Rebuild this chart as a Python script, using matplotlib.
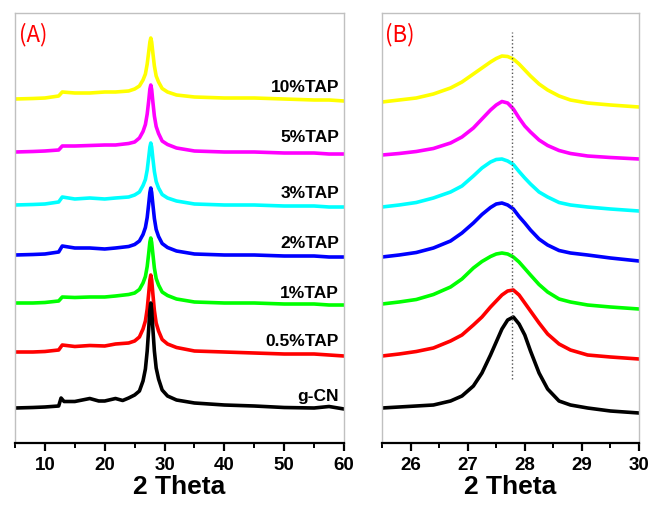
import matplotlib
matplotlib.use('Agg')
import matplotlib.pyplot as plt
from matplotlib.ticker import MultipleLocator

LABELS = ['10%TAP', '5%TAP', '3%TAP', '2%TAP', '1%TAP', '0.5%TAP', 'g-CN']
COLORS = ['#ffff00', '#ff00ff', '#00ffff', '#0000ff', '#00ff00', '#ff0000', '#000000']

# panel A, full scan
A_X = [5, 8, 10, 12.3, 12.9, 15, 17.5, 20, 21.8,
       24, 25, 25.8, 26.4, 26.8, 27.1, 27.35, 27.55, 27.7, 27.85, 28.05, 28.3, 28.6, 29.0, 29.6, 30.5, 32,
       35, 40, 45, 50, 55, 57.5, 60]
A_10 = [344, 344.5, 345, 347, 351, 350, 350, 351, 351,
        352, 354, 357, 363, 369, 379, 391, 401, 405, 401, 390, 377, 367, 361, 354.5, 351, 348,
        346, 345, 345, 344, 343, 343, 342]
A_5 = [291, 291.5, 292, 293, 297, 297, 297.5, 298, 298,
       299.5, 301, 305, 311.5, 318.5, 329, 342, 354, 358, 353.5, 341, 327, 316.5, 309.5, 302, 298.5, 295,
       292, 291, 291, 290, 290, 289, 289]
A_3 = [238, 238.5, 239, 241, 246, 244, 245, 244, 245,
       246, 248, 251, 257.5, 263.5, 273, 285.5, 296, 300, 296, 284.5, 271.5, 261.5, 255, 248.5, 245, 242,
       239, 238, 238, 237, 237, 236, 236]
A_2 = [188, 188.5, 189, 191, 197, 195, 195, 194, 195,
       196.5, 198.5, 202, 208.5, 215.5, 225.5, 239, 250.5, 255, 250.5, 238.5, 224.5, 213.5, 206.5, 199.5, 195.5, 192,
       189, 188, 188, 187, 187, 186, 186]
A_1 = [140, 140, 140.5, 142, 146, 145.5, 146, 146, 147,
       148.5, 150, 153.5, 160, 166.5, 176.5, 189.5, 201, 205, 200.5, 189, 175, 164.5, 158, 151, 147.5, 144,
       141, 140, 140, 139, 139, 138, 138]
A_05 = [91, 91, 91.5, 93, 98, 96.5, 97.5, 97, 99,
        100, 102, 106, 114, 122, 134, 149.5, 163, 168, 163, 149, 132.5, 120, 112, 103.5, 99, 95.5,
        92, 91, 90, 89, 89, 88, 87]
A_X_GCN = [5, 8, 10, 12.3, 12.7, 13.2, 15, 17.5, 19, 20, 21.8, 23,
           24, 25, 25.8, 26.4, 26.8, 27.1, 27.35, 27.55, 27.7, 27.85, 28.05, 28.3, 28.6, 29.0, 29.6, 30.5, 32,
           35, 40, 45, 50, 55, 57.5, 60]
A_GCN = [35, 35.5, 36, 37, 45, 41.5, 41.5, 44.5, 42, 42, 44.5, 42.5,
         45, 48, 52, 62, 74, 92, 114, 133, 140, 133, 114, 92, 75, 64, 53, 47, 43,
         40, 38, 37, 35.5, 35, 36.5, 34]

# panel B, zoom on the (002) peak
B_X = [25.5, 25.8, 26.1, 26.4, 26.7, 26.9, 27.1, 27.25, 27.4, 27.5, 27.6, 27.7,
       27.8, 27.9, 28.0, 28.1, 28.25, 28.4, 28.6, 28.8, 29.1, 29.5, 30.0]
B_10 = [341, 343, 345, 349, 355, 361, 369, 375, 381, 384.5, 387, 386.5,
        384, 379, 373, 367, 359, 353, 347, 343, 340, 338, 336]
B_5 = [288, 289.5, 291.5, 294.5, 300, 306, 315, 324, 333, 338, 341.5, 340,
       334, 325, 317, 311, 303, 297.5, 292.5, 289.5, 287, 285.5, 284]
B_3 = [236, 238, 240.5, 245, 251, 257, 267, 275, 281, 283.5, 284, 282,
       278.5, 271.5, 265, 259, 251, 246, 240.5, 238, 236, 234, 232]
B_2 = [186, 188, 190.5, 195, 202, 210, 220, 228.5, 235.5, 239, 240, 238,
       234, 226.5, 220, 213, 204, 198, 192.5, 190, 188, 185, 182]
B_1 = [139, 141, 143.5, 148.5, 156, 164, 175, 181.5, 186.5, 189, 190, 189,
       186, 181, 174.5, 168, 158.5, 151, 144, 141, 138, 136, 134]
B_05 = [87, 89, 91.5, 95, 102, 108, 118, 126, 136, 142, 148, 152,
        153, 148, 140, 132, 120, 109, 99, 93, 88, 86, 84]
B_GCN = [35, 36, 37, 38, 42, 47, 57, 70, 88, 101, 114, 123,
         126, 119, 108, 92, 70, 54, 42, 38, 35, 32, 30]
B_MARK = 27.78

A_SERIES = [(A_X, A_10), (A_X, A_5), (A_X, A_3), (A_X, A_2), (A_X, A_1), (A_X, A_05), (A_X_GCN, A_GCN)]
B_SERIES = [B_10, B_5, B_3, B_2, B_1, B_05, B_GCN]
LABEL_Y = [356, 305, 250, 200, 150, 101, 46]


def style_axis(ax, xmin, xmax, major, minor):
    ax.set_xlim(xmin, xmax)
    ax.set_ylim(0, 430)
    ax.set_yticks([])
    ax.xaxis.set_major_locator(MultipleLocator(major))
    ax.xaxis.set_minor_locator(MultipleLocator(minor))
    for side in ['top', 'left', 'right']:
        ax.spines[side].set_color('#c0c0c0')
        ax.spines[side].set_linewidth(1.0)
    ax.spines['bottom'].set_linewidth(1.6)
    ax.tick_params(axis='x', which='major', direction='out', length=6, width=1.6,
                   labelsize=13.5, pad=4)
    ax.tick_params(axis='x', which='minor', direction='out', length=3.5, width=1.4)
    for lab in ax.get_xticklabels():
        lab.set_fontweight('bold')
        lab.set_family('Liberation Sans')
    ax.set_xlabel('2 Theta', fontsize=19, fontweight='bold', family='Liberation Sans', labelpad=1)


def main():
    fig = plt.figure(figsize=(6.52, 5.12), dpi=100)
    ax_a = fig.add_axes([15 / 652, 69 / 512, 329 / 652, 430 / 512])
    ax_b = fig.add_axes([382 / 652, 69 / 512, 257 / 652, 430 / 512])

    for (x, y), c in zip(A_SERIES, COLORS):
        ax_a.plot(x, y, color=c, lw=2.6, solid_joinstyle='round')
    for y, c in zip(B_SERIES, COLORS):
        ax_b.plot(B_X, y, color=c, lw=2.6, solid_joinstyle='round')

    for name, ly in zip(LABELS, LABEL_Y):
        ax_a.text(59.2, ly, name, ha='right', va='center', fontsize=12.5,
                  fontweight='bold', family='Liberation Sans')

    ax_b.plot([B_MARK, B_MARK], [64, 411], color='#555555', lw=1.0, ls=':')

    style_axis(ax_a, 5, 60, 10, 5)
    style_axis(ax_b, 25.5, 30, 1, 0.5)

    ax_a.text(0.012, 0.95, '(A)', transform=ax_a.transAxes, color='red', fontsize=16,
              va='center', ha='left', family=['Noto Sans CJK SC', 'DejaVu Sans'])
    ax_b.text(0.012, 0.95, '(B)', transform=ax_b.transAxes, color='red', fontsize=16,
              va='center', ha='left', family=['Noto Sans CJK SC', 'DejaVu Sans'])

    fig.savefig('out.png', dpi=100)


if __name__ == '__main__':
    main()
